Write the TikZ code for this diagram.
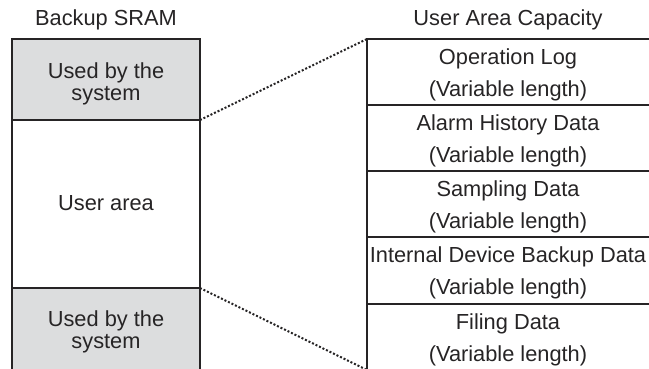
\documentclass[tikz,border=0pt]{standalone}
\usepackage{fontspec}
\setmainfont{Liberation Sans}
\definecolor{edge}{HTML}{262425}
\definecolor{sysgray}{HTML}{DCDDDE}
\tikzset{
  x=1pt, y=-1pt,
  txt/.style={anchor=base, inner sep=0pt, font=\fontsize{21.8}{22}\selectfont, text=edge},
  boxline/.style={draw=edge, line width=2.4pt},
  dotline/.style={draw=edge, line width=2pt, dash pattern=on 2pt off 1.9pt},
}
\begin{document}
\begin{tikzpicture}
\useasboundingbox (0,0) rectangle (649,368);
% left column
\fill[sysgray] (12,39) rectangle (200,120);
\fill[sysgray] (12,288) rectangle (200,372);
\draw[boxline] (12,372) -- (12,39) -- (200,39) -- (200,372);
\draw[boxline] (12,120) -- (200,120);
\draw[boxline] (12,288) -- (200,288);
\coordinate (ltop) at (200,120);
\coordinate (lbot) at (200,288);
% right column
\draw[boxline] (367,372) -- (367,39) -- (652,39);
\foreach \yy in {105,171,237,304} \draw[boxline] (367,\yy) -- (652,\yy);
\coordinate (rtop) at (367,39);
\coordinate (rbot) at (367,370);
% titles
\node[txt] (t1) at (106,25) {Backup SRAM};
\node[txt] (t2) at (508,25) {User Area Capacity};
% left texts
\node[txt] (a1) at (106,78) {Used by the};
\node[txt] (a2) at (106,100) {system};
\node[txt] (ua) at (106,210) {User area};
\node[txt] (b1) at (106,326) {Used by the};
\node[txt] (b2) at (106,348) {system};
% right texts
\node[txt] (r1) at (508,64) {Operation Log};
\node[txt] (r1b) at (508,96) {(Variable length)};
\node[txt] (r2) at (508,130) {Alarm History Data};
\node[txt] (r2b) at (508,162) {(Variable length)};
\node[txt] (r3) at (508,196) {Sampling Data};
\node[txt] (r3b) at (508,228) {(Variable length)};
\node[txt] (r4) at (508,262) {Internal Device Backup Data};
\node[txt] (r4b) at (508,294) {(Variable length)};
\node[txt] (r5) at (508,329) {Filing Data};
\node[txt] (r5b) at (508,361) {(Variable length)};
% dotted connectors
\draw[dotline] (ltop) -- (rtop);
\draw[dotline] (lbot) -- (rbot);
\end{tikzpicture}
\end{document}
